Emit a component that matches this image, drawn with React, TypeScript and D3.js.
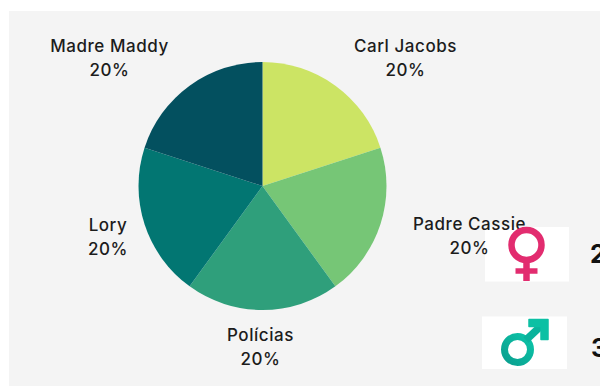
import React from "react";
import * as d3 from "d3";

const categories = ["Carl Jacobs", "Padre Cassie", "Polícias", "Lory", "Madre Maddy"];
const shares = [20, 20, 20, 20, 20];
const sliceColors = ["#cce464", "#76c676", "#2f9f7b", "#027672", "#03505f"];
const labelCenters: [number, number][] = [
  [405.5, 46],
  [469.5, 224],
  [260.5, 335],
  [108, 225],
  [109.5, 46],
];
const genderCounts = ["2", "3"];

const font = "Inter, 'Open Sans', sans-serif";

export default function App() {
  const arcs = d3.pie<number>().value((d) => d).sort(null)(shares);
  const arc = d3.arc<d3.PieArcDatum<number>>().innerRadius(0).outerRadius(124);

  return (
    <svg
      width={600}
      height={386}
      style={{ position: "absolute", left: 0, top: 0, display: "block", background: "#fff" }}
    >
      <defs>
        <linearGradient id="maleFill" x1="0" y1="1" x2="1" y2="0">
          <stop offset="0" stopColor="#0a9f8f" />
          <stop offset="1" stopColor="#0cc4a8" />
        </linearGradient>
      </defs>
      <rect x={9} y={11} width={591} height={375} fill="#f4f4f4" />
      <g transform="translate(262.5,186)">
        {arcs.map((a, i) => (
          <path key={categories[i]} d={arc(a) ?? ""} fill={sliceColors[i]} />
        ))}
      </g>

      {/* White cards sit under the labels, the symbols above them */}
      <rect x={485} y={227} width={84} height={54.5} fill="#ffffff" />
      <rect x={482} y={316.5} width={85} height={52.5} fill="#ffffff" />

      {categories.map((name, i) => (
        <text
          key={name}
          x={labelCenters[i][0]}
          y={labelCenters[i][1]}
          textAnchor="middle"
          fontFamily={font}
          fontSize={17}
          fontWeight={450}
          letterSpacing={0.55}
          fill="#1c1c1c"
        >
          <tspan x={labelCenters[i][0]} dy="0.35em">{name}</tspan>
          <tspan x={labelCenters[i][0]} dy={24}>{shares[i]}%</tspan>
        </text>
      ))}

      {/* Female symbol */}
      <g stroke="#e22c6f" fill="none" strokeWidth={6.5}>
        <circle cx={526.5} cy={245} r={15} />
        <line x1={526.5} y1={260} x2={526.5} y2={281} />
        <line x1={515.5} y1={271} x2={537.5} y2={271} strokeWidth={5.5} />
      </g>

      {/* Male symbol */}
      <g fill="none" stroke="url(#maleFill)" strokeWidth={7}>
        <circle cx={517.5} cy={349.5} r={13} />
      </g>
      <line x1={526} y1={340} x2={542} y2={325} stroke="#0ab39c" strokeWidth={7.5} />
      <path
        d="M529 319.5 L548 319.5 L548 339.5 L541 339.5 L541 326.5 L529 326.5 Z"
        fill="#0cc0a4"
        stroke="#0cc0a4"
        strokeWidth={1.5}
        strokeLinejoin="round"
      />

      {genderCounts.map((count, i) => (
        <text
          key={count}
          x={i === 0 ? 590 : 591}
          y={i === 0 ? 263 : 357}
          fontFamily={font}
          fontSize={25}
          fontWeight={700}
          fill="#111111"
        >
          {count}
        </text>
      ))}
    </svg>
  );
}
